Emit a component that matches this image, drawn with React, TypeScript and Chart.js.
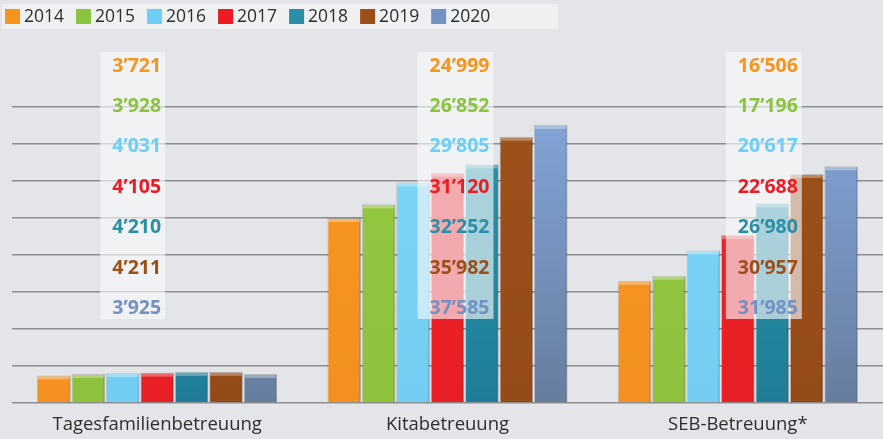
import React, { useEffect, useRef } from 'react';
import { Chart, registerables } from 'chart.js';

Chart.register(...registerables);

// ---- data ----
const categories = ['Tagesfamilienbetreuung', 'Kitabetreuung', 'SEB-Betreuung*'];
const years = ['2014', '2015', '2016', '2017', '2018', '2019', '2020'];
const values2014 = [3721, 24999, 16506];
const values2015 = [3928, 26852, 17196];
const values2016 = [4031, 29805, 20617];
const values2017 = [4105, 31120, 22688];
const values2018 = [4210, 32252, 26980];
const values2019 = [4211, 35982, 30957];
const values2020 = [3925, 37585, 31985];
const seriesValues = [values2014, values2015, values2016, values2017, values2018, values2019, values2020];
const yMin = 0;
const yMax = 40000;
const yStep = 5000;

// ---- styles ----
const FONT = '"Open Sans", "Noto Sans", sans-serif';
const BG = '#e4e5e8';
const barTop = ['#f8971f', '#96c942', '#7dd5f7', '#ef2329', '#2597ae', '#9d511b', '#83a5d9'];
const barBottom = ['#f3901f', '#8ec13c', '#73cdf2', '#e81f26', '#217d97', '#954b18', '#677d9f'];
const labelColors = ['#f7941d', '#8cc43f', '#6dcff6', '#ed1c24', '#2a8fa6', '#9c4f19', '#7391c2'];
const boxOffsets = [[-57, 8], [-30, 46], [-12, 64]];
const boxTop = 52;
const boxBottom = 319;
const rowFirst = 66;
const rowStep = 40.4;

function fmt(n: number): string {
  return String(n).replace(/\B(?=(\d{3})+(?!\d))/g, '\u2019');
}

const overlayPlugin = {
  id: 'overlay',
  afterDatasetsDraw(chart: any) {
    const ctx = chart.ctx;
    chart.data.datasets.forEach((_ds: any, di: number) => {
      const meta = chart.getDatasetMeta(di);
      meta.data.forEach((bar: any) => {
        const { x, y, base, width } = bar.getProps(['x', 'y', 'base', 'width'], true);
        const l = x - width / 2;
        ctx.save();
        ctx.fillStyle = 'rgba(255,255,255,0.32)';
        ctx.fillRect(l + 1, y + 1, width - 2, 3);
        ctx.fillStyle = 'rgba(0,0,0,0.12)';
        ctx.fillRect(l + width - 2, y + 1, 1.5, base - y - 1);
        ctx.restore();
      });
    });
    const xs = chart.scales.x;
    categories.forEach((_c, ci) => {
      const cx = xs.getPixelForValue(ci);
      const [lo, ro] = boxOffsets[ci];
      ctx.save();
      ctx.fillStyle = 'rgba(247,248,250,0.64)';
      ctx.fillRect(cx + lo, boxTop, ro - lo, boxBottom - boxTop);
      ctx.font = `bold 19.5px ${FONT}`;
      ctx.textAlign = 'right';
      ctx.textBaseline = 'middle';
      seriesValues.forEach((vals, si) => {
        ctx.fillStyle = labelColors[si];
        ctx.fillText(fmt(vals[ci]), cx + ro - 4, rowFirst + si * rowStep);
      });
      ctx.restore();
    });
  },
  afterDraw(chart: any) {
    const ctx = chart.ctx;
    ctx.save();
    ctx.fillStyle = '#eff0f2';
    ctx.fillRect(2, 4, 556, 25);
    ctx.font = `17.5px ${FONT}`;
    ctx.textBaseline = 'middle';
    ctx.textAlign = 'left';
    let x = 5;
    years.forEach((yr, i) => {
      ctx.fillStyle = labelColors[i];
      ctx.fillRect(x, 9, 15, 15);
      ctx.fillStyle = '#2e2e2e';
      ctx.fillText(yr, x + 19, 17);
      x += 19 + ctx.measureText(yr).width + 12;
    });
    ctx.restore();
  },
};

export default function App() {
  const ref = useRef<HTMLCanvasElement>(null);
  useEffect(() => {
    if (!ref.current) return;
    const chart = new Chart(ref.current, {
      type: 'bar',
      data: {
        labels: categories,
        datasets: years.map((yr, i) => ({
          label: yr,
          data: seriesValues[i],
          backgroundColor: (c: any) => {
            const area = c.chart.chartArea;
            if (!area) return barTop[i];
            const g = c.chart.ctx.createLinearGradient(0, area.top, 0, area.bottom);
            g.addColorStop(0, barTop[i]);
            g.addColorStop(1, barBottom[i]);
            return g;
          },
          borderColor: 'rgba(0,0,0,0.18)',
          borderWidth: 1,
          barPercentage: 0.98,
          categoryPercentage: 0.83,
        })),
      },
      options: {
        responsive: false,
        animation: false,
        devicePixelRatio: 1,
        layout: { padding: { top: 107, left: 12, right: 0, bottom: 0 } },
        plugins: { legend: { display: false }, tooltip: { enabled: false } },
        scales: {
          x: {
            grid: { display: false },
            border: { display: false },
            ticks: { color: '#2e2e2e', font: { family: FONT, size: 18.5 }, padding: 3 },
            afterFit: (scale: any) => { scale.height = 36; },
          },
          y: {
            min: yMin,
            max: yMax,
            ticks: { display: false, stepSize: yStep },
            grid: { color: '#8e8e90', lineWidth: 1.4, drawTicks: false },
            border: { display: false },
          },
        },
      },
      plugins: [overlayPlugin],
    });
    return () => chart.destroy();
  }, []);
  return (
    <div style={{ position: 'absolute', left: 0, top: 0, width: 883, height: 439, background: BG }}>
      <canvas ref={ref} width={883} height={439} style={{ display: 'block' }} />
    </div>
  );
}
